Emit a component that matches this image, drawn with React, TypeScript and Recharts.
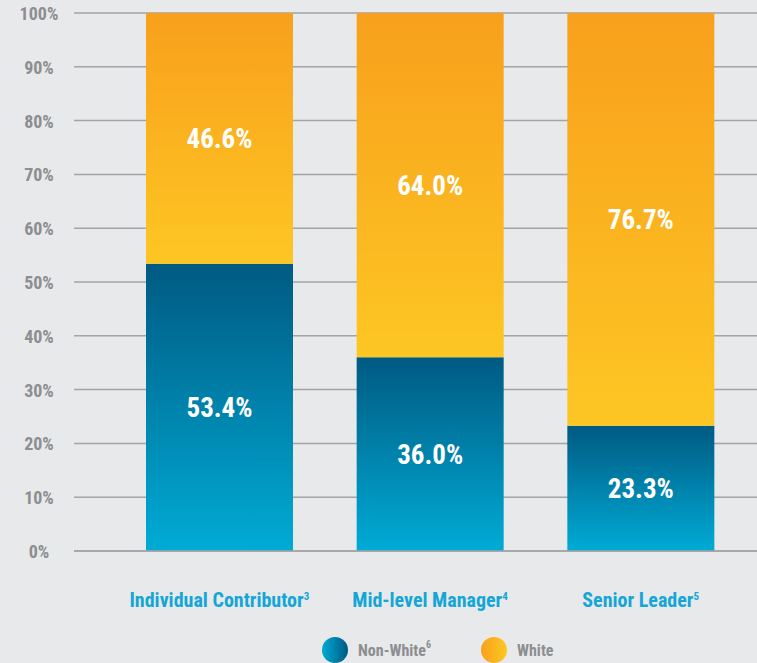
import React from 'react';
import { BarChart, Bar, XAxis, YAxis, CartesianGrid, LabelList, Legend } from 'recharts';

const categories = ['Individual Contributor', 'Mid-level Manager', 'Senior Leader'];
const categoryNotes = ['3', '4', '5'];
const nonWhite = [53.4, 36.0, 23.3];
const white = [46.6, 64.0, 76.7];
const yTicks = [0, 10, 20, 30, 40, 50, 60, 70, 80, 90, 100];
const seriesNames = ['Non-White', 'White'];
const seriesNotes = ['6', ''];

const FONT = "'Liberation Sans Narrow', 'Roboto Condensed', Roboto, sans-serif";
const GRAY = '#8c8e90';
const CAT_BLUE = '#14a6d6';

const data = categories.map((c, i) => ({
  name: c,
  note: categoryNotes[i],
  nonWhite: nonWhite[i],
  white: white[i],
}));

const YTick = (props: any) => {
  const { y, payload } = props;
  return (
    <text x={39} y={y} dy={7} textAnchor="middle" fill={GRAY} fontFamily={FONT} fontWeight={700} fontSize={18}>
      {payload.value}%
    </text>
  );
};

const XTick = (props: any) => {
  const { x, y, payload, index } = props;
  return (
    <text x={x} y={y} dy={48} textAnchor="middle" fill={CAT_BLUE} fontFamily={FONT} fontWeight={700} fontSize={20}>
      {payload.value}
      <tspan fontSize={11} dy={-7}>{categoryNotes[index]}</tspan>
    </text>
  );
};

const barLabel = (props: any) => {
  const { x, y, width, height, value } = props;
  return (
    <text
      x={x + width / 2}
      y={y + height / 2}
      dy={10}
      textAnchor="middle"
      fill="#ffffff"
      fontFamily={FONT}
      fontWeight={700}
      fontSize={27}
    >
      {Number(value).toFixed(1)}%
    </text>
  );
};

const legendCenters = [335, 494];

const LegendContent = () => {
  const grads = [
    'linear-gradient(to right, #00aad4, #005a82)',
    'linear-gradient(to right, #f8a01c, #fdc823)',
  ];
  return (
    <div style={{ position: 'relative', width: 757, height: 26 }}>
      {seriesNames.map((n, i) => (
        <div
          key={n}
          style={{ position: 'absolute', left: legendCenters[i] - 13, top: 0, display: 'flex', alignItems: 'center', height: 26 }}
        >
          <div style={{ width: 26, height: 26, borderRadius: 13, background: grads[i], marginRight: 10 }} />
          <span style={{ fontFamily: FONT, fontWeight: 700, fontSize: 16, color: GRAY, whiteSpace: 'nowrap' }}>
            {n}
            {seriesNotes[i] && (
              <sup style={{ fontSize: 10, verticalAlign: 'top', lineHeight: '10px', position: 'relative', top: -1 }}>
                {seriesNotes[i]}
              </sup>
            )}
          </span>
        </div>
      ))}
    </div>
  );
};

export default function App() {
  return (
    <div style={{ position: 'absolute', left: 0, top: 0, width: 757, height: 663, background: '#e8e9eb', overflow: 'hidden' }}>
      <BarChart
        width={757}
        height={663}
        data={data}
        margin={{ top: 13, right: 0, left: 0, bottom: 26 }}
        barSize={147}
      >
        <defs>
          <linearGradient id="gNon" x1="0" y1="0" x2="0" y2="1">
            <stop offset="0%" stopColor="#005a82" />
            <stop offset="100%" stopColor="#00abd5" />
          </linearGradient>
          <linearGradient id="gWhite" x1="0" y1="0" x2="0" y2="1">
            <stop offset="0%" stopColor="#f8a01c" />
            <stop offset="100%" stopColor="#fdc623" />
          </linearGradient>
        </defs>
        <CartesianGrid horizontal vertical={false} stroke="#a2a4a6" strokeWidth={1.5} />
        <XAxis
          dataKey="name"
          height={60}
          padding={{ left: 40, right: 11 }}
          tickLine={false}
          axisLine={{ stroke: '#a2a4a6', strokeWidth: 1.5 }}
          tick={<XTick />}
          interval={0}
        />
        <YAxis
          width={74}
          domain={[0, 100]}
          ticks={yTicks}
          tickLine={false}
          axisLine={false}
          tick={<YTick />}
          interval={0}
        />
        <Legend
          verticalAlign="bottom"
          height={26}
          content={<LegendContent />}
          wrapperStyle={{ position: 'absolute', top: 637, left: 0, width: 757, height: 26, bottom: 'auto' }}
        />
        <Bar dataKey="nonWhite" name="Non-White" stackId="a" fill="url(#gNon)" isAnimationActive={false}>
          <LabelList dataKey="nonWhite" content={barLabel} />
        </Bar>
        <Bar dataKey="white" name="White" stackId="a" fill="url(#gWhite)" isAnimationActive={false}>
          <LabelList dataKey="white" content={barLabel} />
        </Bar>
      </BarChart>
    </div>
  );
}
